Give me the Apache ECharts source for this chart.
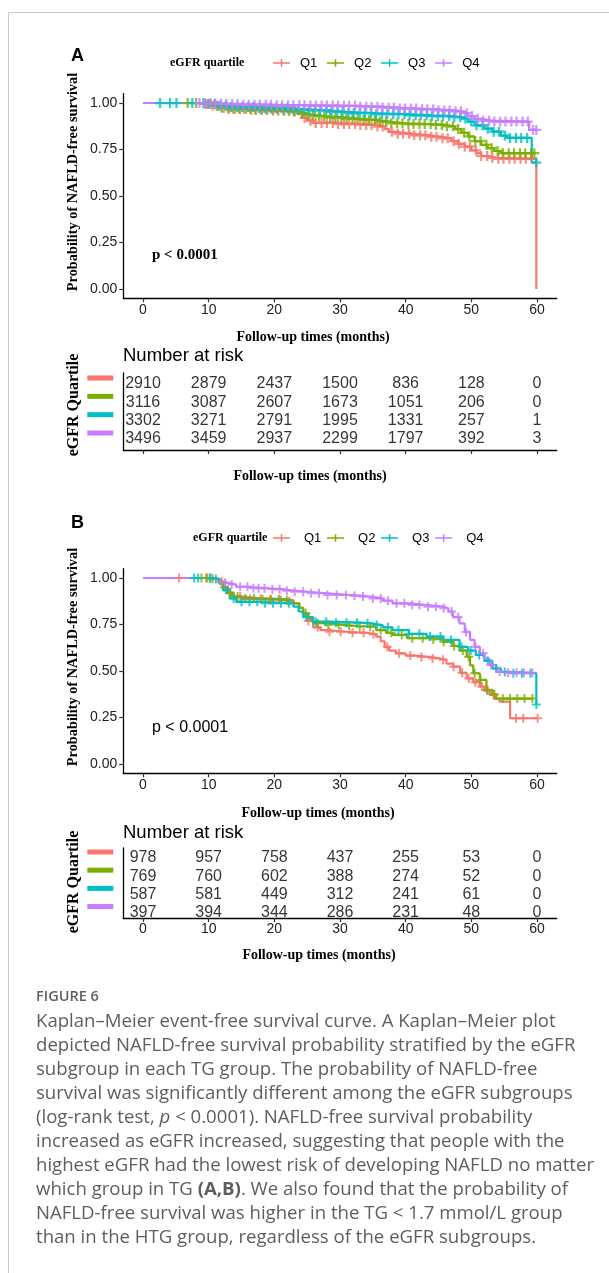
<!DOCTYPE html>
<html><head><meta charset="utf-8">
<script src="https://cdn.jsdelivr.net/npm/echarts@6/dist/echarts.min.js"></script>
<style>html,body{margin:0;padding:0;background:#fff;}#c{width:609px;height:1273px;}</style>
</head><body><div id="c"></div>
<script>
// ---------------- data ----------------
const groups = ['Q1', 'Q2', 'Q3', 'Q4'];
const colors = ['#F8766D', '#7CAE00', '#00BFC4', '#C77CFF'];
const xTicks = [0, 10, 20, 30, 40, 50, 60];
const yTicks = [0, 0.25, 0.5, 0.75, 1];
const riskTimes = [0, 10, 20, 30, 40, 50, 60];

// Panel A: Kaplan-Meier steps [month, survival]
const kmA_Q1 = [[0,1],[9.5,0.995],[10.5,0.985],[11.5,0.975],[13,0.968],[16,0.962],[19,0.958],[22.5,0.953],[23.5,0.94],[24.3,0.92],[25,0.905],[26,0.893],[29,0.887],[33,0.882],[35.5,0.873],[36.8,0.86],[37.5,0.845],[38.5,0.835],[41,0.826],[43.5,0.818],[45.5,0.81],[47,0.795],[48,0.78],[49,0.765],[50,0.745],[50.8,0.73],[51.5,0.715],[52.5,0.705],[54,0.70],[59.9,0]];
const kmA_Q2 = [[0,1],[9.5,0.996],[10.5,0.985],[11.5,0.975],[13,0.97],[17,0.966],[21,0.96],[23,0.955],[23.8,0.945],[24.8,0.935],[26,0.928],[28,0.922],[31,0.915],[33,0.909],[35.5,0.9],[37.5,0.891],[40,0.887],[44,0.882],[46,0.875],[47.5,0.86],[48.5,0.84],[49.5,0.82],[50.5,0.795],[51.5,0.775],[52.5,0.757],[53.5,0.742],[54.5,0.73],[59.6,0.73]];
const kmA_Q3 = [[0,1],[10,0.995],[11.5,0.985],[13,0.978],[17,0.972],[22,0.966],[25,0.96],[28,0.952],[31,0.946],[35,0.94],[40,0.934],[44,0.93],[47,0.924],[48.5,0.915],[49.5,0.9],[50.5,0.88],[52,0.862],[53.2,0.846],[54.5,0.825],[55.5,0.812],[59.2,0.68],[59.9,0.68]];
const kmA_Q4 = [[0,1],[9,0.997],[12,0.994],[15,0.99],[20,0.988],[25,0.986],[30,0.985],[33,0.98],[36,0.975],[39,0.97],[42,0.966],[45,0.96],[47.5,0.955],[48.5,0.945],[49.5,0.93],[50.5,0.915],[51.5,0.905],[53,0.9],[58.8,0.855],[59.9,0.855]];

// Panel A: censoring times (months)
const censA_Q1 = [9.8,10.6,11.4,12.3,13.1,14.0,14.8,15.7,16.5,17.2,18.1,18.9,19.8,20.6,21.5,22.3,23.0,24.6,25.5,26.3,27.2,28.0,28.9,29.7,30.6,31.4,32.3,33.1,34.0,34.8,35.7,36.5,37.9,38.8,39.6,40.5,41.3,42.2,43.0,43.9,44.7,45.6,46.4,47.3,48.1,49.0,49.8,50.7,51.5,52.4,53.2,54.1,54.9,55.8,56.6,57.5,58.3,59.2];
const censA_Q2 = [6.8,8.1,9.5,10.3,11.2,12.0,12.9,13.7,14.6,15.4,16.3,17.1,18.0,18.8,19.7,20.5,21.4,22.2,23.1,24.2,25.1,25.9,26.8,27.6,28.5,29.3,30.2,31.0,31.9,32.7,33.6,34.4,35.3,36.1,37.0,37.8,38.7,39.5,40.4,41.2,42.1,42.9,43.8,44.6,45.5,46.3,47.2,48.0,48.9,49.7,50.6,51.4,52.3,53.1,54.0,54.8,55.7,56.5,57.4,58.2,59.1,59.6];
const censA_Q3 = [2.6,4.1,5.1,7.5,9.2,10.0,10.9,11.7,12.6,13.4,14.3,15.1,16.0,16.8,17.7,18.5,19.4,20.2,21.1,21.9,22.8,23.6,24.5,25.3,26.2,27.0,27.9,28.7,29.6,30.4,31.3,32.1,33.0,33.8,34.7,35.5,36.4,37.2,38.1,38.9,39.8,40.6,41.5,42.3,43.2,44.0,44.9,45.7,46.6,47.4,48.3,49.1,50.0,50.8,51.7,52.5,53.4,54.2,55.1,55.9,56.8,57.6,58.5,59.9];
const censA_Q4 = [8.6,9.4,10.2,11.0,11.9,12.7,13.6,14.4,15.3,16.1,17.0,17.8,18.7,19.5,20.4,21.2,22.1,22.9,23.8,24.6,25.5,26.3,27.2,28.0,28.9,29.7,30.6,31.4,32.3,33.1,34.0,34.8,35.7,36.5,37.4,38.2,39.1,39.9,40.8,41.6,42.5,43.3,44.2,45.0,45.9,46.7,47.6,48.4,49.3,50.1,51.0,51.8,52.7,53.5,54.4,55.2,56.1,56.9,57.8,58.6,59.4,59.9];

// Panel B: Kaplan-Meier steps
const kmB_Q1 = [[0,1],[10.5,0.995],[11.5,0.98],[12.3,0.95],[13,0.92],[13.8,0.9],[15,0.888],[19,0.882],[22,0.875],[23,0.864],[23.8,0.84],[24.4,0.8],[25,0.77],[25.9,0.735],[27,0.72],[28,0.711],[31,0.705],[34,0.698],[35.5,0.685],[36.2,0.66],[36.8,0.63],[37.5,0.61],[38.5,0.595],[40,0.583],[41.5,0.575],[44,0.567],[45.2,0.56],[46.2,0.54],[47.2,0.523],[48.3,0.49],[49.3,0.46],[50.3,0.44],[51.3,0.416],[52,0.395],[52.8,0.371],[53.5,0.35],[54.3,0.335],[55.9,0.246],[60.1,0.246]];
const kmB_Q2 = [[0,1],[10.5,0.996],[11.5,0.98],[12.2,0.95],[12.8,0.92],[13.5,0.9],[14.5,0.89],[18,0.886],[21.5,0.88],[22.9,0.864],[23.8,0.84],[24.4,0.81],[25.2,0.78],[25.9,0.757],[28,0.747],[31,0.742],[33,0.738],[35.5,0.72],[37,0.705],[38,0.694],[40.2,0.676],[44,0.67],[45.7,0.657],[47.2,0.635],[48.2,0.61],[49.3,0.577],[49.8,0.53],[50.3,0.488],[51.3,0.452],[52.3,0.398],[53.2,0.375],[53.8,0.352],[59.3,0.352]];
const kmB_Q3 = [[0,1],[10.8,0.995],[11.6,0.97],[12.2,0.935],[13.2,0.89],[14.2,0.872],[17.8,0.864],[22.9,0.846],[23.7,0.82],[24.4,0.79],[25.9,0.765],[28,0.76],[33,0.757],[34.6,0.747],[36.5,0.735],[38,0.72],[40.5,0.7],[43.2,0.685],[45.7,0.667],[48.2,0.63],[49.5,0.61],[50.7,0.586],[52,0.555],[53.2,0.514],[54.5,0.495],[55.8,0.488],[59.9,0.32]];
const kmB_Q4 = [[0,1],[11.2,0.99],[11.8,0.975],[12.7,0.965],[14.2,0.953],[16,0.945],[19,0.94],[21,0.932],[22.9,0.926],[25,0.918],[28,0.909],[31,0.905],[33,0.9],[34.6,0.89],[36.5,0.878],[38,0.864],[40.6,0.855],[43.2,0.846],[45.7,0.837],[46.5,0.82],[47.2,0.79],[48.2,0.756],[49,0.71],[49.8,0.667],[50.5,0.63],[51.3,0.595],[52,0.565],[52.8,0.532],[53.8,0.496],[55,0.49],[59.3,0.49]];

// Panel B: censoring times
const censB_Q1 = [5.5,9.6,10.3,12.0,13.2,14.8,16.3,17.9,19.5,21.0,22.3,25.2,26.6,28.4,30.1,31.9,33.6,35.1,37.2,39.0,40.7,42.4,44.1,45.7,47.3,48.6,49.6,50.6,51.6,52.5,53.4,56.8,57.9,60.1];
const censB_Q2 = [8.9,9.8,10.6,12.4,13.3,14.4,15.6,16.9,18.2,19.4,20.7,21.9,24.8,26.6,28.2,29.8,31.4,33.0,34.6,36.2,37.8,39.4,41.0,42.6,44.2,45.8,47.4,48.7,49.6,50.5,51.4,52.4,53.5,54.8,55.9,57.0,58.1,59.3];
const censB_Q3 = [7.8,8.4,10.2,11.1,12.7,13.8,15.0,16.2,17.4,18.6,19.8,21.0,22.2,24.9,26.3,27.9,29.4,31.0,32.6,34.2,35.6,37.3,38.9,40.5,42.1,43.7,45.3,46.9,48.5,49.9,51.2,52.5,53.8,55.1,56.4,57.7,59.0,59.9];
const censB_Q4 = [12.5,13.5,14.8,15.9,16.8,17.6,18.5,19.7,20.8,21.9,23.1,24.4,25.6,26.8,28.1,29.5,30.9,32.2,33.5,35.0,36.2,37.3,38.6,39.8,41.0,42.1,43.4,44.6,45.8,47.0,48.0,49.2,50.6,51.8,53.0,54.3,55.6,56.9,58.0,59.3];

// Number at risk
const riskA_Q1 = [2910, 2879, 2437, 1500, 836, 128, 0];
const riskA_Q2 = [3116, 3087, 2607, 1673, 1051, 206, 0];
const riskA_Q3 = [3302, 3271, 2791, 1995, 1331, 257, 1];
const riskA_Q4 = [3496, 3459, 2937, 2299, 1797, 392, 3];
const riskB_Q1 = [978, 957, 758, 437, 255, 53, 0];
const riskB_Q2 = [769, 760, 602, 388, 274, 52, 0];
const riskB_Q3 = [587, 581, 449, 312, 241, 61, 0];
const riskB_Q4 = [397, 394, 344, 286, 231, 48, 0];

const captionLines = [
  'Kaplan\u2013Meier event-free survival curve. A Kaplan\u2013Meier plot',
  'depicted NAFLD-free survival probability stratified by the eGFR',
  'subgroup in each TG group. The probability of NAFLD-free',
  'survival was significantly different among the eGFR subgroups',
  '(log-rank test, {i|p} < 0.0001). NAFLD-free survival probability',
  'increased as eGFR increased, suggesting that people with the',
  'highest eGFR had the lowest risk of developing NAFLD no matter',
  'which group in TG {b|(A,B)}. We also found that the probability of',
  'NAFLD-free survival was higher in the TG < 1.7 mmol/L group',
  'than in the HTG group, regardless of the eGFR subgroups.'
];

// ---------------- chart ----------------
const SANS = 'Liberation Sans, Arial, sans-serif';
const SERIF = 'Liberation Serif, Times New Roman, serif';
const CAP = 'Open Sans, Lato, sans-serif';
const CAPC = '#5e5e5e';
const CAPS = 18.6;
const crossPath = 'path://M3.1,0h1.8v8h-1.8zM0,3.1h8v1.8h-8z';
const legendIcon = 'path://M0,3.2h18v1.6h-18zM8.2,0h1.6v8h-1.6z';

function survAt(km, t) {
  let s = km[0][1];
  for (const p of km) { if (p[0] <= t) s = p[1]; else break; }
  return s;
}

const panels = [
  { km: [kmA_Q1, kmA_Q2, kmA_Q3, kmA_Q4], cens: [censA_Q1, censA_Q2, censA_Q3, censA_Q4], risk: [riskA_Q1, riskA_Q2, riskA_Q3, riskA_Q4], cross: 10 },
  { km: [kmB_Q1, kmB_Q2, kmB_Q3, kmB_Q4], cens: [censB_Q1, censB_Q2, censB_Q3, censB_Q4], risk: [riskB_Q1, riskB_Q2, riskB_Q3, riskB_Q4], cross: 9 }
];

const GL = 123.3, GW = 433.4;
const grids = [
  { left: GL, top: 93.7, width: GW, height: 204.6 },
  { left: GL, top: 373, width: GW, height: 77 },
  { left: GL, top: 568.7, width: GW, height: 204.6 },
  { left: GL, top: 848, width: GW, height: 70 }
];
const riskY = [[0.4, 4.6], [0.45, 4.3]];

const axisLineStyle = { color: '#000', width: 1.3 };
const tickStyle = { color: '#333', width: 1.2 };

const xAxes = [], yAxes = [];
for (let i = 0; i < 4; i++) {
  const isRisk = i % 2 === 1;
  const showLab = !isRisk || i === 3;
  xAxes.push({
    gridIndex: i, type: 'value', min: -3, max: 63,
    axisLine: { show: true, onZero: false, lineStyle: axisLineStyle },
    axisTick: { show: true, customValues: xTicks, length: 4, lineStyle: tickStyle },
    axisLabel: { show: showLab, customValues: xTicks, color: '#222', fontSize: 14, fontFamily: SANS, margin: isRisk ? 4 : 5 },
    splitLine: { show: false }
  });
  if (!isRisk) {
    yAxes.push({
      gridIndex: i, type: 'value', min: -0.05, max: 1.05,
      axisLine: { show: true, onZero: false, lineStyle: axisLineStyle },
      axisTick: { show: true, customValues: yTicks, length: 4, lineStyle: tickStyle },
      axisLabel: { customValues: yTicks, formatter: v => v.toFixed(2), color: '#222', fontSize: 14, fontFamily: SANS, margin: 6 },
      splitLine: { show: false }
    });
  } else {
    const rich = {};
    groups.forEach((g, k) => { rich['q' + (k + 1)] = { width: 26, height: 5, backgroundColor: colors[k] }; });
    const r = riskY[(i - 1) / 2];
    yAxes.push({
      gridIndex: i, type: 'value', min: r[0], max: r[1], inverse: true,
      axisLine: { show: true, onZero: false, lineStyle: axisLineStyle },
      axisTick: { show: false },
      axisLabel: { customValues: [1, 2, 3, 4], formatter: v => '{q' + v + '| }', rich: rich, margin: 10, padding: [0, 0, 12, 0] },
      splitLine: { show: false }
    });
  }
}

const series = [];
panels.forEach((p, pi) => {
  const xi = pi * 2;
  groups.forEach((g, k) => {
    series.push({
      type: 'line', name: g, xAxisIndex: xi, yAxisIndex: xi, data: p.km[k], step: 'end',
      symbol: 'none', showSymbol: false, lineStyle: { width: 2.2, color: colors[k] }, itemStyle: { color: colors[k] }, z: 2
    });
  });
  groups.forEach((g, k) => {
    series.push({
      type: 'scatter', name: g, xAxisIndex: xi, yAxisIndex: xi,
      data: p.cens[k].map(t => [t, survAt(p.km[k], t)]),
      symbol: crossPath, symbolSize: p.cross, itemStyle: { color: colors[k] }, z: 3
    });
  });
  groups.forEach((g, k) => {
    series.push({
      type: 'scatter', xAxisIndex: xi + 1, yAxisIndex: xi + 1,
      data: riskTimes.map((t, j) => [t, k + 1, p.risk[k][j]]),
      symbolSize: 1, itemStyle: { color: 'rgba(0,0,0,0)' },
      label: { show: true, position: 'inside', formatter: q => String(q.value[2]), fontSize: 16, fontFamily: SANS, color: '#000' }
    });
  });
});

function legendFor(top, textPad, gap) {
  return {
    data: groups.map(g => ({ name: g, icon: legendIcon })),
    left: 273, top: top, orient: 'horizontal', padding: 0,
    itemWidth: 17, itemHeight: 8, itemGap: gap, selectedMode: false,
    textStyle: { fontSize: 13, fontFamily: SANS, color: '#000', padding: [0, 0, 0, textPad], lineHeight: 14 }
  };
}

function txt(x, y, text, font, opts) {
  return Object.assign({
    type: 'text', x: x, y: y, silent: true,
    style: Object.assign({ text: text, fill: '#000', align: 'left', verticalAlign: 'middle', textAlign: 'left', textVerticalAlign: 'middle' }, font)
  }, opts || {});
}
const serifBold = s => ({ fontFamily: SERIF, fontWeight: 'bold', fontSize: s });
const sans = (s, w) => ({ fontFamily: SANS, fontWeight: w || 'normal', fontSize: s });
const centered = { align: 'center', textAlign: 'center' };

const graphics = [
  { type: 'line', silent: true, shape: { x1: 9, y1: 12.5, x2: 609, y2: 12.5 }, style: { stroke: '#c8c8c8', lineWidth: 1 } },
  { type: 'line', silent: true, shape: { x1: 8.5, y1: 12.5, x2: 8.5, y2: 1273 }, style: { stroke: '#c8c8c8', lineWidth: 1 } },
  // Panel A
  txt(71, 56, 'A', sans(18, 'bold')),
  txt(170, 63, 'eGFR quartile', serifBold(12)),
  txt(73, 182, 'Probability of NAFLD-free survival', Object.assign(serifBold(14.3), centered), { rotation: Math.PI / 2 }),
  txt(152, 255, 'p < 0.0001', serifBold(15)),
  txt(313, 337, 'Follow-up times (months)', Object.assign(serifBold(14), centered)),
  txt(123, 356, 'Number at risk', sans(18.5)),
  txt(74, 405, 'eGFR Quartile', Object.assign(serifBold(16), centered), { rotation: Math.PI / 2 }),
  txt(310, 476, 'Follow-up times (months)', Object.assign(serifBold(14), centered)),
  // Panel B
  txt(71, 523, 'B', sans(18, 'bold')),
  txt(193, 538, 'eGFR quartile', serifBold(12)),
  txt(73, 657, 'Probability of NAFLD-free survival', Object.assign(serifBold(14.3), centered), { rotation: Math.PI / 2 }),
  txt(152, 728, 'p < 0.0001', sans(16)),
  txt(318, 813, 'Follow-up times (months)', Object.assign(serifBold(14), centered)),
  txt(123, 833, 'Number at risk', sans(18.5)),
  txt(74, 882, 'eGFR Quartile', Object.assign(serifBold(16), centered), { rotation: Math.PI / 2 }),
  txt(319, 955, 'Follow-up times (months)', Object.assign(serifBold(14), centered)),
  // Caption
  txt(36, 997, 'FIGURE 6', { fontFamily: CAP, fontWeight: 600, fontSize: 14.5, fill: '#606060' })
];
captionLines.forEach((line, i) => {
  graphics.push(txt(36, 1022 + i * 24, line, {
    fontFamily: CAP, fontSize: CAPS, fill: CAPC,
    rich: {
      b: { fontFamily: CAP, fontSize: CAPS, fontWeight: 'bold', fill: CAPC, color: CAPC },
      i: { fontFamily: CAP, fontSize: CAPS, fontStyle: 'italic', fill: CAPC, color: CAPC }
    }
  }));
});

const chart = echarts.init(document.getElementById('c'));
chart.setOption({
  animation: false,
  backgroundColor: '#fff',
  grid: grids,
  xAxis: xAxes,
  yAxis: yAxes,
  legend: [legendFor(56, 5, 9.7), legendFor(531, 9, 5.7)],
  series: series,
  graphic: { elements: graphics }
});
</script>
</body></html>
